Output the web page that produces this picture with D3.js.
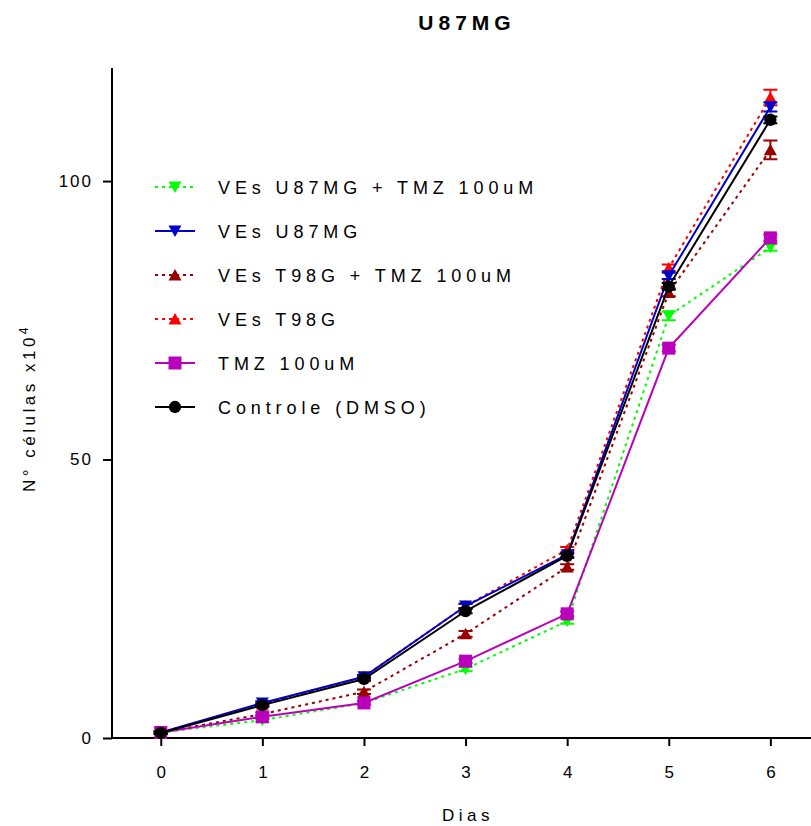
<!DOCTYPE html>
<html>
<head>
<meta charset="utf-8">
<script src="https://cdn.jsdelivr.net/npm/d3@7"></script>
<style>
  html, body { margin: 0; padding: 0; background: #fff; }
  svg { display: block; font-family: "Liberation Sans", Arial, sans-serif; }
</style>
</head>
<body>
<svg id="chart" width="811" height="826"></svg>
<script>
// Growth curve of U87MG cells (N° células x10^4) over 6 days
const days = [0, 1, 2, 3, 4, 5, 6];
const yTicks = [0, 50, 100];

const veU87Tmz   = [1.0, 3.2, 6.3, 12.4, 21.0, 75.8, 88.1];
const veU87      = [1.0, 6.3, 11.0, 23.7, 32.9, 83.0, 113.3];
const veT98Tmz   = [1.0, 4.3, 8.3, 18.7, 30.7, 80.0, 105.6];
const veT98      = [1.0, 6.1, 11.0, 23.7, 33.8, 84.4, 115.0];
const tmz100     = [1.0, 3.8, 6.3, 13.8, 22.3, 70.0, 89.8];
const controle   = [0.9, 5.9, 10.6, 22.8, 32.7, 81.1, 111.0];

const errU87Tmz  = [0.2, 0.3, 0.3, 0.4, 0.5, 0.8, 0.6];
const errU87     = [0.2, 0.3, 0.3, 0.4, 0.4, 0.6, 0.8];
const errT98Tmz  = [0.2, 0.3, 0.4, 0.5, 0.5, 0.7, 1.7];
const errT98     = [0.2, 0.3, 0.3, 0.4, 0.5, 0.6, 1.4];
const errTmz     = [0.2, 0.3, 0.3, 0.4, 0.4, 0.6, 0.6];
const errCtrl    = [0.2, 0.3, 0.3, 0.4, 0.4, 0.6, 0.6];

const seriesNames = [
  "VEs U87MG + TMZ 100uM",
  "VEs U87MG",
  "VEs T98G + TMZ 100uM",
  "VEs T98G",
  "TMZ 100uM",
  "Controle (DMSO)"
];

const series = [
  { name: seriesNames[0], values: veU87Tmz, err: errU87Tmz, color: "#00ff00", dash: "3,4", marker: "down" },
  { name: seriesNames[1], values: veU87,    err: errU87,    color: "#0000cc", dash: null,  marker: "down" },
  { name: seriesNames[2], values: veT98Tmz, err: errT98Tmz, color: "#990000", dash: "3,4", marker: "up" },
  { name: seriesNames[3], values: veT98,    err: errT98,    color: "#ff0000", dash: "3,4", marker: "up" },
  { name: seriesNames[4], values: tmz100,   err: errTmz,    color: "#bb00bb", dash: null,  marker: "square" },
  { name: seriesNames[5], values: controle, err: errCtrl,   color: "#000000", dash: null,  marker: "circle" }
];

const svg = d3.select("#chart");
const plotLeft = 112, plotRight = 811, plotTop = 68, plotBottom = 738;

const x = d3.scaleLinear().domain([-0.48, 6.4]).range([plotLeft, plotRight]);
const y = d3.scaleLinear().domain([0, 120.3]).range([plotBottom, plotTop]);

// Axes
const xAxis = d3.axisBottom(x).tickValues(days).tickSize(8).tickPadding(20).tickFormat(d3.format("d"));
const yAxis = d3.axisLeft(y).tickValues(yTicks).tickSize(9).tickPadding(10).tickFormat(d3.format("d"));

const gx = svg.append("g").attr("transform", `translate(0,${plotBottom})`).call(xAxis);
const gy = svg.append("g").attr("transform", `translate(${plotLeft},0)`).call(yAxis);
[gx, gy].forEach(g => {
  g.select(".domain").attr("stroke", "#000").attr("stroke-width", 2);
  g.selectAll(".tick line").attr("stroke", "#000").attr("stroke-width", 2);
  g.selectAll(".tick text").attr("fill", "#000").style("font-size", "17px")
    .style("letter-spacing", "2px")
    .style("font-family", "'Liberation Sans', Arial, sans-serif");
});
gx.selectAll(".tick text").style("letter-spacing", "0px");
gx.select(".domain").attr("d", `M${plotLeft},0H${plotRight}`);
gy.select(".domain").attr("d", `M0,${plotTop}V${plotBottom}`);

// Marker symbols
function markerPath(type) {
  if (type === "down") return "M-6.5,-5.5L6.5,-5.5L0,6z";
  if (type === "up") return "M-6.5,5.5L6.5,5.5L0,-6z";
  if (type === "square") return "M-6.5,-6.5H6.5V6.5H-6.5z";
  return d3.symbol(d3.symbolCircle, 120)();
}

const line = d3.line().x((d, i) => x(days[i])).y(d => y(d));

const drawOrder = [3, 2, 0, 1, 4, 5];
drawOrder.forEach(k => {
  const s = series[k];
  const g = svg.append("g");
  g.append("path")
    .datum(s.values)
    .attr("d", line)
    .attr("fill", "none")
    .attr("stroke", s.color)
    .attr("stroke-width", 2)
    .attr("stroke-dasharray", s.dash);
  // error bars
  s.values.forEach((v, i) => {
    const e = s.err[i];
    const cx = x(days[i]);
    g.append("path")
      .attr("d", `M${cx},${y(v - e)}V${y(v + e)}M${cx - 7},${y(v + e)}H${cx + 7}M${cx - 7},${y(v - e)}H${cx + 7}`)
      .attr("stroke", s.color).attr("stroke-width", 2).attr("fill", "none");
  });
  g.selectAll("path.pt")
    .data(s.values)
    .enter().append("path")
    .attr("class", "pt")
    .attr("d", markerPath(s.marker))
    .attr("transform", (d, i) => `translate(${x(days[i])},${y(d)})`)
    .attr("fill", s.color);
});

// Legend
const legend = svg.append("g");
series.forEach((s, i) => {
  const ly = 187 + i * 44;
  legend.append("line")
    .attr("x1", 155).attr("x2", 195).attr("y1", ly).attr("y2", ly)
    .attr("stroke", s.color).attr("stroke-width", 2)
    .attr("stroke-dasharray", s.dash);
  legend.append("path")
    .attr("d", markerPath(s.marker))
    .attr("transform", `translate(175,${ly})`)
    .attr("fill", s.color);
  legend.append("text")
    .attr("x", 218).attr("y", ly + 6.5)
    .style("font-size", "18px")
    .style("letter-spacing", "4.9px")
    .attr("fill", "#000")
    .text(s.name);
});

// Title
svg.append("text")
  .attr("x", 467).attr("y", 30)
  .attr("text-anchor", "middle")
  .style("font-size", "21px").style("font-weight", "bold")
  .style("letter-spacing", "5px")
  .text("U87MG");

// Axis titles
svg.append("text")
  .attr("x", 468).attr("y", 821)
  .attr("text-anchor", "middle")
  .style("font-size", "17px").style("letter-spacing", "4.5px")
  .text("Dias");

const yl = svg.append("text")
  .attr("transform", "translate(35,408) rotate(-90)")
  .attr("text-anchor", "middle")
  .style("font-size", "17px").style("letter-spacing", "3.5px");
yl.append("tspan").text("N° células x10");
yl.append("tspan").attr("dy", -7).style("font-size", "12px").text("4");
</script>
</body>
</html>
